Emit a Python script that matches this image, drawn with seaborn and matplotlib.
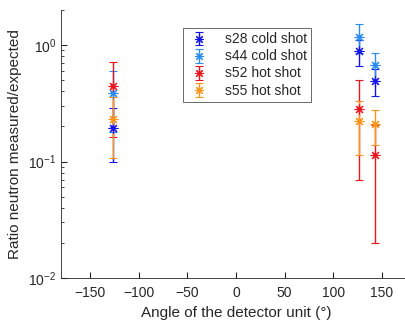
import numpy as np
import pandas as pd
import matplotlib
matplotlib.use("Agg")
import matplotlib.pyplot as plt
import seaborn as sns

# ---- data ----
series = ["s28 cold shot", "s44 cold shot", "s52 hot shot", "s55 hot shot"]
angles = [-127, 127, 143]
s28_vals = [0.195, 0.882, 0.492]
s28_err = [0.096, 0.22, 0.13]
s44_vals = [0.386, 1.18, 0.676]
s44_err = [0.207, 0.33, 0.18]
s52_vals = [0.441, 0.285, 0.113]
s52_err = [0.28, 0.216, 0.093]
s55_vals = [0.233, 0.2225, 0.2085]
s55_err = [0.126, 0.108, 0.071]
colors = ["#1414E6", "#2A8CF0", "#E8141E", "#FA9419"]

vals = [s28_vals, s44_vals, s52_vals, s55_vals]
errs = [s28_err, s44_err, s52_err, s55_err]

rows = []
for name, v, e in zip(series, vals, errs):
    for a, vv, ee in zip(angles, v, e):
        rows.append({"series": name, "angle": a, "ratio": vv, "err": ee})
df = pd.DataFrame(rows)

sns.set_style("ticks")
plt.rcParams["font.family"] = ["Liberation Sans", "DejaVu Sans"]

fig = plt.figure(figsize=(4.05, 3.24), dpi=100)
ax = fig.add_axes([61 / 405, 1 - 278 / 324, 350 / 405, 268 / 324])

asterisk = (8, 2, 0)
handles = []
for name, c in zip(series, colors):
    d = df[df["series"] == name]
    h = ax.errorbar(d["angle"], d["ratio"], yerr=d["err"], linestyle="none",
                    marker=asterisk, markersize=7, markeredgewidth=0.8,
                    color=c, ecolor=c, elinewidth=1.0, capsize=3, capthick=1.0,
                    label=name)
    handles.append(h)

sns.scatterplot(data=df, x="angle", y="ratio", hue="series", palette=colors,
                hue_order=series, marker="o", s=8, linewidth=0, legend=False, ax=ax)

ax.set_yscale("log")
ax.set_ylim(0.01, 2)
ax.set_xlim(-180, 180)
ax.set_xticks([-150, -100, -50, 0, 50, 100, 150])
ax.tick_params(axis="both", which="both", direction="in", labelsize=10, color="#262626",
               labelcolor="#262626")
ax.tick_params(axis="both", which="major", length=4)
ax.tick_params(axis="x", which="major", pad=6)
ax.tick_params(axis="y", which="minor", length=2)
for s in ["top", "right"]:
    ax.spines[s].set_visible(False)
for s in ["left", "bottom"]:
    ax.spines[s].set_color("#262626")
    ax.spines[s].set_linewidth(0.6)

ax.set_xlabel("Angle of the detector unit (°)", fontsize=11, color="#262626", labelpad=4)
ax.set_ylabel("Ratio neutron measured/expected", fontsize=11, color="#262626")

leg = ax.legend(handles=handles, labels=series, loc="upper left",
                bbox_to_anchor=(0.33, 0.958), fontsize=10, frameon=True,
                fancybox=False, edgecolor="#262626", handlelength=1.6,
                handletextpad=1.1, borderpad=0.3, labelspacing=0.22,
                markerscale=0.9)
leg.get_frame().set_linewidth(0.6)

fig.savefig("out.png", dpi=100)
